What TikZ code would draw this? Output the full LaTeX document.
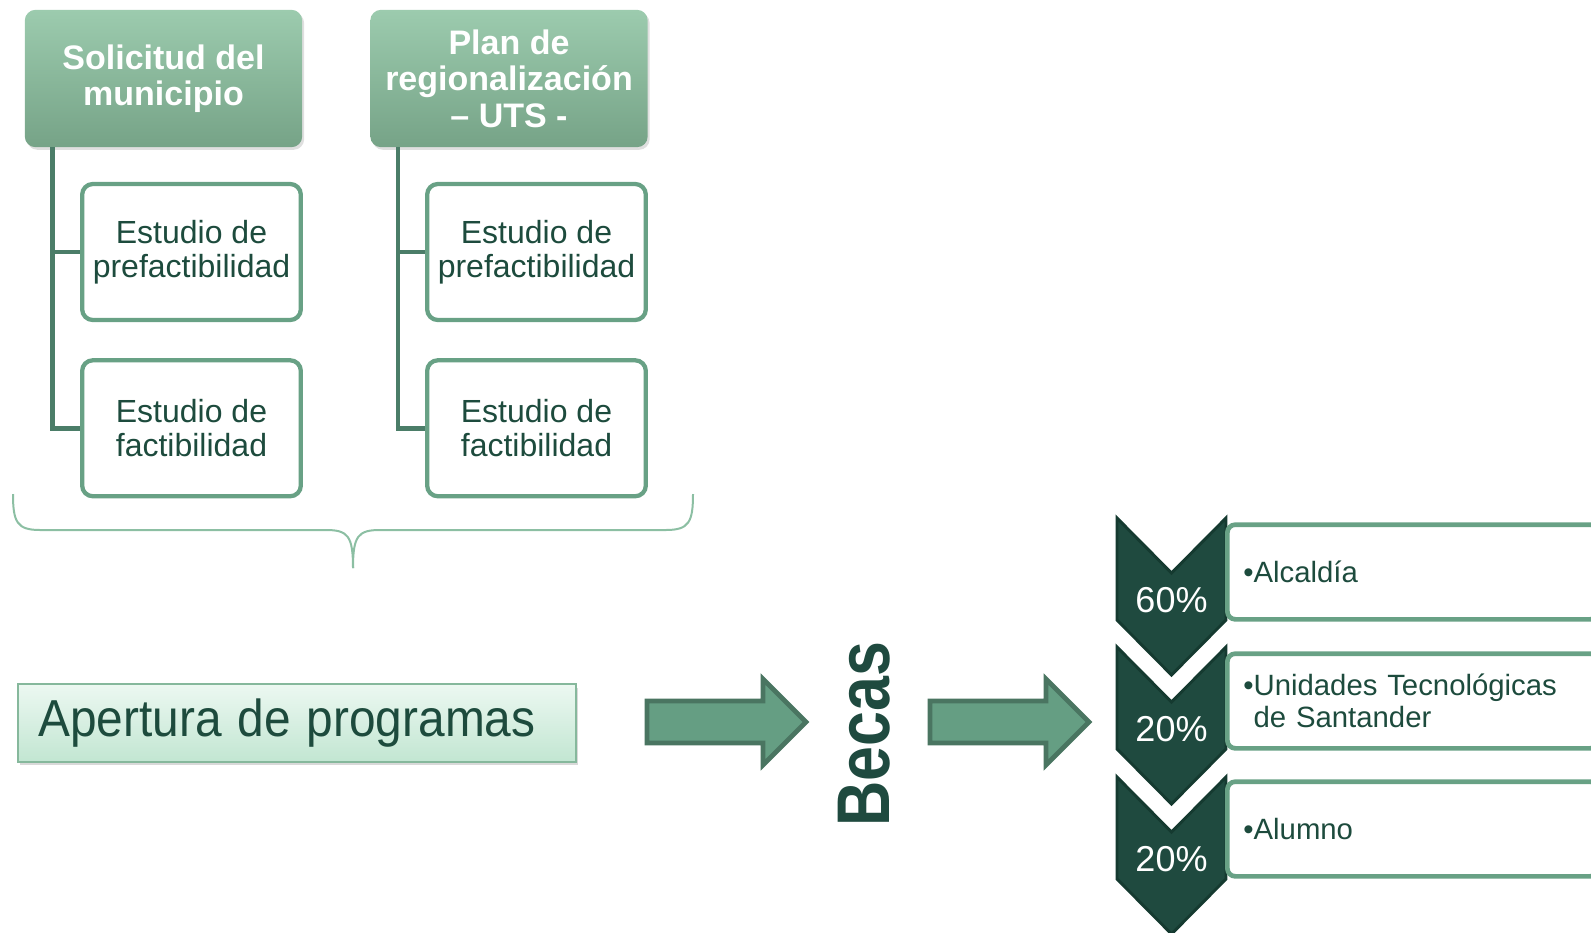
\documentclass[tikz,border=0pt]{standalone}
\usepackage{fontspec}
\setmainfont{Liberation Sans}
\usepackage{xcolor}
\usepackage{graphicx}
\usetikzlibrary{positioning}
\usetikzlibrary{shadows}
\definecolor{hdtop}{HTML}{9CCBAE}
\definecolor{hdbot}{HTML}{76A387}
\definecolor{subline}{HTML}{68A185}
\definecolor{linkline}{HTML}{4B7D68}
\definecolor{txtgreen}{HTML}{1D4B3D}
\definecolor{arrfill}{HTML}{659E83}
\definecolor{arrline}{HTML}{4A7561}
\definecolor{apertop}{HTML}{ECF8F1}
\definecolor{aperbot}{HTML}{C2E6D2}
\definecolor{aperline}{HTML}{86B89C}
\definecolor{chevfill}{HTML}{1F4A3F}
\definecolor{chevline}{HTML}{153A30}
\definecolor{braceline}{HTML}{8CBFA3}
\tikzset{
	head node/.style={rectangle,rounded corners=8pt,top color=hdtop,bottom color=hdbot,
		text=white,align=center,font=\fontsize{25.5}{27.4}\selectfont\bfseries,
		minimum width=208pt,minimum height=103pt,
		drop shadow={opacity=0.25,shadow xshift=1.5pt,shadow yshift=-2pt}},
	sub node/.style={rectangle,rounded corners=8pt,draw=subline,line width=3.2pt,fill=white,
		text=txtgreen,align=center,font=\fontsize{24}{25.9}\selectfont,
		minimum width=164pt,minimum height=102pt},
	link/.style={draw=linkline,line width=3.6pt},
	aper node/.style={rectangle,top color=apertop,bottom color=aperbot,draw=aperline,line width=1.5pt,
		text=txtgreen,align=left,font=\fontsize{39}{42}\selectfont,
		minimum width=418pt,minimum height=58pt,text width=388pt,inner xsep=15pt,
		drop shadow={opacity=0.3,shadow xshift=1.5pt,shadow yshift=-2.5pt}},
	block arrow/.style={fill=arrfill,draw=arrline,line width=3.5pt,line join=miter},
	becas node/.style={rotate=90,text=chevfill,font=\fontsize{56}{60}\selectfont\bfseries},
	chevron/.style={fill=chevfill,draw=chevline,line width=2.2pt,line join=miter},
	pct node/.style={anchor=base,text=white,font=\fontsize{27}{30}\selectfont},
	list node/.style={rectangle,rounded corners=6pt,draw=subline,line width=3.5pt,fill=white,
		text=txtgreen,align=left,font=\fontsize{22}{23.6}\selectfont,
		minimum height=71pt,text width=254pt,inner xsep=12pt,anchor=west},
	brace line/.style={draw=braceline,line width=1.5pt}
}
\begin{document}
\begin{tikzpicture}[x=0.75pt,y=-0.75pt]
	\useasboundingbox (0,0) rectangle (1591,932);

	% upper part: two sources, each with its studies
	\node[head node] (sol) at (163.5,78.5) {Solicitud del\\municipio};
	\node[head node] (plan) at (509,78.5) {Plan de\\regionalización\\– UTS -};

	\node[sub node] (solpre) at (191.5,252) {Estudio de\\prefactibilidad};
	\node[sub node] (solfac) [below=27pt of solpre] {Estudio de\\factibilidad};
	\node[sub node] (planpre) at (536.5,252) {Estudio de\\prefactibilidad};
	\node[sub node] (planfac) [below=27pt of planpre] {Estudio de\\factibilidad};

	\draw[link] ([xshift=21pt]sol.south west) |- (solpre.west);
	\draw[link] ([xshift=21pt]sol.south west) |- (solfac.west);
	\draw[link] ([xshift=21pt]plan.south west) |- (planpre.west);
	\draw[link] ([xshift=21pt]plan.south west) |- (planfac.west);

	% brace
	\coordinate (brtip) at (353,568);
	\draw[brace line] (13,494) .. controls (13,522) and (17,530) .. (40,530) -- (326,530)
		.. controls (348,530) and (353,536) .. (brtip);
	\draw[brace line] (693,494) .. controls (693,522) and (689,530) .. (666,530) -- (380,530)
		.. controls (358,530) and (353,536) .. (brtip);

	% lower part
	\node[aper node] (aper) at (297,723) {\scalebox{0.92}[1]{Apertura de programas}};

	\draw[block arrow] (647,701) -- (763,701) -- (763,679) -- (806,722) -- (763,765) -- (763,743) -- (647,743) -- cycle;
	\node[becas node] (becas) at (864,734) {\scalebox{0.84}[1]{Becas}};
	\draw[block arrow] (930,701) -- (1046,701) -- (1046,679) -- (1089,722) -- (1046,765) -- (1046,743) -- (930,743) -- cycle;

	\foreach \t/\p [count=\i] in {518/60\%,647/20\%,777/20\%}{
		\draw[chevron] (1117,\t) -- (1171.5,{\t+55}) -- (1226,\t) -- (1226,{\t+102})
			-- (1171.5,{\t+157}) -- (1117,{\t+102}) -- cycle;
		\node[pct node] (pct\i) at (1171.5,{\t+94}) {\p};
	}

	\node[list node] (alc) at (1225,572) {•Alcaldía};
	\node[list node] (uts) at (1225,701) {•Unidades Tecnológicas\\\phantom{•}de Santander};
	\node[list node] (alu) at (1225,829) {•Alumno};
\end{tikzpicture}
\end{document}
